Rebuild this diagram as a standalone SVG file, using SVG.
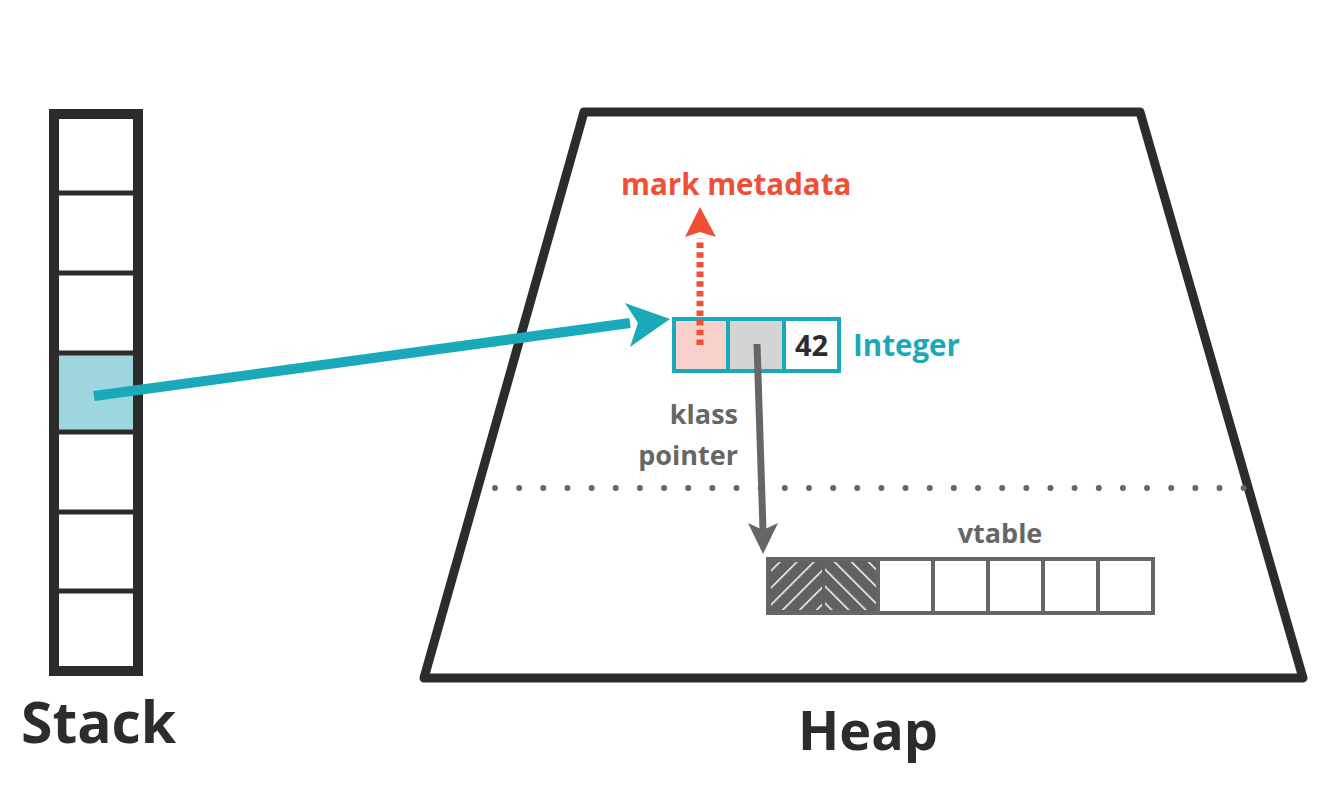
<svg xmlns="http://www.w3.org/2000/svg" width="1334" height="800" viewBox="0 0 1334 800">
<style>
text{font-family:"Open Sans","Noto Sans","Liberation Sans",sans-serif;font-weight:700}
.big{fill:#2c2c2c}
.lbl{font-size:27px;fill:#666666}
.dark{stroke:#2c2c2c;fill:none}
.cellg{fill:none;stroke:#666666;stroke-width:4}
</style>
<defs>
<pattern id="hatchA" width="12" height="12" patternUnits="userSpaceOnUse" patternTransform="rotate(45)">
<line x1="0" y1="0" x2="0" y2="12" stroke="#ffffff" stroke-width="3"/>
</pattern>
<pattern id="hatchB" width="12" height="12" patternUnits="userSpaceOnUse" patternTransform="rotate(-45)">
<line x1="0" y1="0" x2="0" y2="12" stroke="#ffffff" stroke-width="3"/>
</pattern>
</defs>
<rect width="1334" height="800" fill="#ffffff"/>

<g id="stack">
<rect x="59" y="353" width="74" height="79" fill="#9dd6de"/>
<rect x="54" y="114" width="84" height="557" class="dark" stroke-width="10"/>
<g stroke="#2c2c2c" stroke-width="5">
<line x1="59" y1="193" x2="133" y2="193"/>
<line x1="59" y1="273" x2="133" y2="273"/>
<line x1="59" y1="353" x2="133" y2="353"/>
<line x1="59" y1="432" x2="133" y2="432"/>
<line x1="59" y1="512" x2="133" y2="512"/>
<line x1="59" y1="591" x2="133" y2="591"/>
</g>
<text x="21" y="743" class="big" font-size="57">Stack</text>
</g>

<g id="heap">
<polygon points="584,112 1140,112 1303,678 424,678" class="dark" stroke-width="9" stroke-linejoin="round"/>
<line x1="495" y1="488" x2="1245" y2="488" stroke="#666666" stroke-width="6" stroke-linecap="round" stroke-dasharray="0 24.15"/>
<text x="798" y="750" class="big" font-size="54">Heap</text>
</g>

<g id="integer">
<rect x="674" y="319" width="54" height="52" fill="#f9d1cc"/>
<rect x="728" y="319" width="56" height="52" fill="#d4d4d4"/>
<rect x="674" y="319" width="165" height="52" fill="none" stroke="#1aa9b8" stroke-width="4"/>
<line x1="728" y1="319" x2="728" y2="371" stroke="#1aa9b8" stroke-width="4"/>
<line x1="784" y1="319" x2="784" y2="371" stroke="#1aa9b8" stroke-width="4"/>
<text x="811.5" y="356" font-size="29" fill="#2c2c2c" text-anchor="middle">42</text>
<text x="853" y="356" font-size="29.5" fill="#1aa9b8">Integer</text>
</g>

<g id="mark-metadata">
<text x="621" y="195" font-size="29.5" fill="#ef4f37">mark metadata</text>
</g>

<g id="klass-pointer">
<text x="738" y="424" class="lbl" text-anchor="end">klass</text>
<text x="738" y="465" class="lbl" text-anchor="end">pointer</text>
</g>

<g id="vtable">
<rect x="768" y="559" width="110" height="54" fill="#616161"/>
<rect x="771" y="562" width="51" height="48" fill="url(#hatchA)"/>
<rect x="825" y="562" width="51" height="48" fill="url(#hatchB)"/>
<rect x="768" y="559" width="385" height="54" class="cellg"/>
<g stroke="#666666" stroke-width="4">
<line x1="878" y1="559" x2="878" y2="613"/>
<line x1="933" y1="559" x2="933" y2="613"/>
<line x1="988" y1="559" x2="988" y2="613"/>
<line x1="1043" y1="559" x2="1043" y2="613"/>
<line x1="1098" y1="559" x2="1098" y2="613"/>
</g>
<text x="1000" y="543" class="lbl" text-anchor="middle">vtable</text>
</g>

<g id="connectors">
<line x1="94" y1="396" x2="630" y2="323" stroke="#1aa9b8" stroke-width="10"/>
<polygon points="670,319 625,303 638,323 630,347" fill="#1aa9b8"/>
<line x1="700" y1="345" x2="700" y2="238" stroke="#ef4f37" stroke-width="7" stroke-dasharray="5.5 4.2"/>
<polygon points="700,207 716,237 700,232 685,237" fill="#ef4f37"/>
<line x1="757" y1="344" x2="763" y2="530" stroke="#666666" stroke-width="7"/>
<polygon points="763,554 748,523 763,530 778,523" fill="#666666"/>
</g>
</svg>
